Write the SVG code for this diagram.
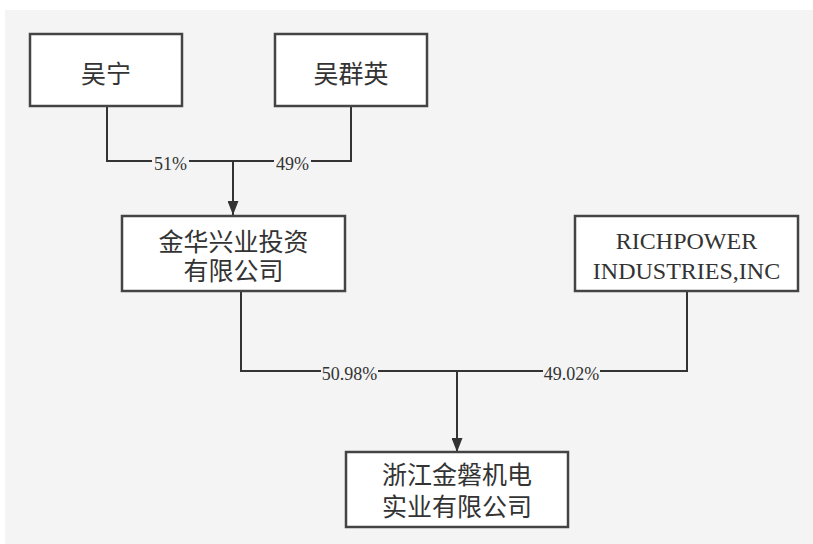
<svg xmlns="http://www.w3.org/2000/svg" width="813" height="544" viewBox="0 0 813 544">
<style>
.box{fill:#fff;stroke:#444;stroke-width:2.5}
.cjk{font-family:"Noto Sans CJK SC","Noto Sans",sans-serif;font-size:25px;fill:#333;text-anchor:middle}
.ser{font-family:"Liberation Serif",serif;font-size:24px;fill:#333;text-anchor:middle}
.lbl{font-family:"Liberation Serif",serif;font-size:18px;fill:#333;text-anchor:middle}
.ln{fill:none;stroke:#333;stroke-width:2}
.bg{fill:#f4f4f4}
</style>
<defs>
<marker id="arr" viewBox="0 0 14 11" refX="14" refY="5.5" markerWidth="14" markerHeight="11" markerUnits="userSpaceOnUse" orient="auto">
<path d="M0,0 L14,5.5 L0,11 z" fill="#333"/>
</marker>
</defs>
<rect x="0" y="0" width="813" height="544" fill="#fff"/>
<rect class="bg" x="5" y="10" width="808" height="534"/>
<g id="connectors">
<path class="ln" d="M107,106 V161 H351 V106"/>
<path class="ln" d="M233,161 V215" marker-end="url(#arr)"/>
<path class="ln" d="M241,291 V371 H687 V291"/>
<path class="ln" d="M457,371 V452" marker-end="url(#arr)"/>
<rect x="152" y="154" width="37" height="18" class="bg"/>
<text class="lbl" x="170.5" y="170">51%</text>
<rect x="274" y="154" width="37" height="18" class="bg"/>
<text class="lbl" x="292.5" y="170">49%</text>
<rect x="321" y="364" width="57" height="18" class="bg"/>
<text class="lbl" x="349.5" y="380">50.98%</text>
<rect x="543" y="364" width="57" height="18" class="bg"/>
<text class="lbl" x="571.5" y="380">49.02%</text>
</g>
<g id="wuning">
<rect class="box" x="30" y="34" width="152" height="72"/>
<text class="cjk" x="106" y="83">吴宁</text>
</g>
<g id="wuqunying">
<rect class="box" x="275" y="34" width="152" height="72"/>
<text class="cjk" x="351" y="83">吴群英</text>
</g>
<g id="jinhua">
<rect class="box" x="122" y="216" width="223" height="75"/>
<text class="cjk" x="233.5" y="251">金华兴业投资</text>
<text class="cjk" x="233.5" y="280">有限公司</text>
</g>
<g id="richpower">
<rect class="box" x="575" y="216" width="223" height="75"/>
<text class="ser" x="686.5" y="249">RICHPOWER</text>
<text class="ser" x="686.5" y="279">INDUSTRIES,INC</text>
</g>
<g id="zhejiang">
<rect class="box" x="346" y="452" width="222" height="75"/>
<text class="cjk" x="457" y="484">浙江金磐机电</text>
<text class="cjk" x="457" y="516">实业有限公司</text>
</g>
</svg>
